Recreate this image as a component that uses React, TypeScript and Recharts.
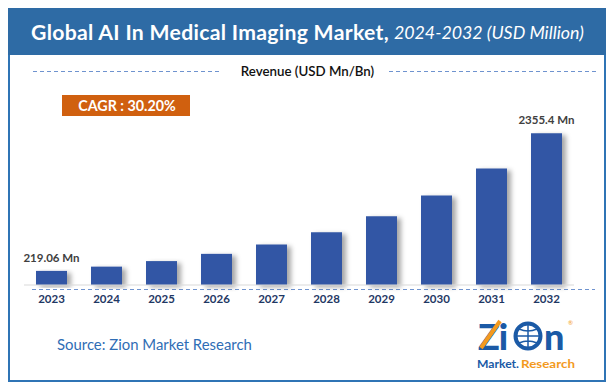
import { BarChart, Bar, XAxis, YAxis, Cell, LabelList } from "recharts"

const years = ["2023", "2024", "2025", "2026", "2027", "2028", "2029", "2030", "2031", "2032"]
const revenue = [219.06, 285.2, 371.3, 483.5, 629.5, 819.6, 1067.2, 1389.5, 1809.1, 2355.4]
const valueLabels = ["219.06 Mn", "", "", "", "", "", "", "", "", "2355.4 Mn"]

const chartData = years.map((year, i) => ({ year, revenue: revenue[i], label: valueLabels[i] }))

const FONT = "Lato, 'Open Sans', sans-serif"
const BAR = "#3157a5"

function ValueLabel(props: any) {
  const { x, y, width, index } = props
  const text = valueLabels[index]
  if (!text) return null
  return (
    <text
      x={x + width / 2}
      y={y - 9}
      textAnchor="middle"
      fill="#404040"
      fontFamily={FONT}
      fontWeight={700}
      fontSize={11.5}
    >
      {text}
    </text>
  )
}

function YearTick(props: any) {
  const { x, y, payload } = props
  return (
    <text x={x} y={y + 10} textAnchor="middle" fill="#1f3864" fontFamily={FONT} fontWeight={700} fontSize={11.5}>
      {payload.value}
    </text>
  )
}

export default function App() {
  return (
    <div style={{ position: "absolute", left: 0, top: 0, width: 614, height: 390, background: "#fff", fontFamily: FONT }}>
      {/* frame + header */}
      <div
        style={{
          position: "absolute",
          left: 8,
          top: 8,
          width: 598,
          height: 374,
          border: "2px solid #2f74b5",
          boxSizing: "border-box"
        }}
      />
      <div
        style={{
          position: "absolute",
          left: 8,
          top: 8,
          width: 598,
          height: 47,
          background: "#2e6ba5",
          color: "#fff",
          display: "flex",
          alignItems: "center",
          paddingLeft: 23,
          boxSizing: "border-box",
          whiteSpace: "nowrap"
        }}
      >
        <span style={{ fontWeight: 700, fontSize: 21.2, letterSpacing: 0.3 }}>Global AI In Medical Imaging Market,</span>
        <span style={{ fontStyle: "italic", fontSize: 17.8, marginLeft: 5 }}>2024-2032 (USD Million)</span>
      </div>

      <svg width={614} height={390} style={{ position: "absolute", left: 0, top: 0 }}>
        <line x1={33} x2={222} y1={71.5} y2={71.5} stroke="#6f93cf" strokeWidth={1} strokeDasharray="4 3" />
        <line x1={389} x2={596} y1={71.5} y2={71.5} stroke="#6f93cf" strokeWidth={1} strokeDasharray="4 3" />
        <text x={307.5} y={76} textAnchor="middle" fill="#111" fontFamily={FONT} fontWeight={600} fontSize={13.3}>
          Revenue (USD Mn/Bn)
        </text>
        <rect x={62} y={95} width={128} height={21} fill="#d0600f" />
        <text x={127} y={110.5} textAnchor="middle" fill="#fff" fontFamily={FONT} fontWeight={700} fontSize={14.3}>
          CAGR : 30.20%
        </text>
        <line x1={32} x2={595} y1={289.5} y2={289.5} stroke="#6f93cf" strokeWidth={1} strokeDasharray="4 3" />
        <text x={57} y={350} fill="#2f6db5" fontFamily={FONT} fontSize={14.9}>
          Source: Zion Market Research
        </text>
        {/* logo */}
        <g fontFamily={FONT} fontWeight={900}>
          <text x={478} y={350} fill="#1b5aa6" fontSize={36} letterSpacing={-1}>Zi</text>
          <line x1={481} y1={348} x2={500} y2={321} stroke="#f39a1e" strokeWidth={4} />
          <circle cx={528} cy={336} r={12.5} fill="none" stroke="#1b5aa6" strokeWidth={4} />
          <path d="M516 336 H540 M528 324 V348 M519 329 Q528 333 537 329 M519 343 Q528 339 537 343" stroke="#1b5aa6" strokeWidth={1.5} fill="none" />
          <text x={544} y={350} fill="#1b5aa6" fontSize={36}>n</text>
          <text x={568} y={325} fill="#f39a1e" fontSize={6} fontWeight={400}>®</text>
          <text x={477} y={368} fill="#1b5aa6" fontSize={10.5} fontWeight={700} textLength={42} lengthAdjust="spacingAndGlyphs">Market.</text>
          <text x={521} y={368} fill="#f39a1e" fontSize={10.5} fontWeight={700} textLength={54} lengthAdjust="spacingAndGlyphs">Research</text>
        </g>
      </svg>

      <div style={{ position: "absolute", left: 0, top: 0 }}>
        <BarChart width={614} height={390} data={chartData} margin={{ top: 124, right: 40, left: 24, bottom: 75 }}>
          <defs>
            <filter id="barShadow" x="-30%" y="-10%" width="160%" height="130%">
              <feDropShadow dx={4} dy={2} stdDeviation={2.5} floodColor="#000" floodOpacity={0.35} />
            </filter>
          </defs>
          <XAxis
            dataKey="year"
            height={30}
            axisLine={{ stroke: "#d9d9d9", strokeWidth: 1 }}
            tickLine={false}
            tick={<YearTick />}
            interval={0}
          />
          <YAxis hide domain={[0, 2500]} />
          <Bar dataKey="revenue" barSize={31} fill={BAR} isAnimationActive={false}>
            {chartData.map((d) => (
              <Cell key={d.year} fill={BAR} style={{ filter: "url(#barShadow)" }} />
            ))}
            <LabelList dataKey="label" content={<ValueLabel />} />
          </Bar>
        </BarChart>
      </div>
    </div>
  )
}
